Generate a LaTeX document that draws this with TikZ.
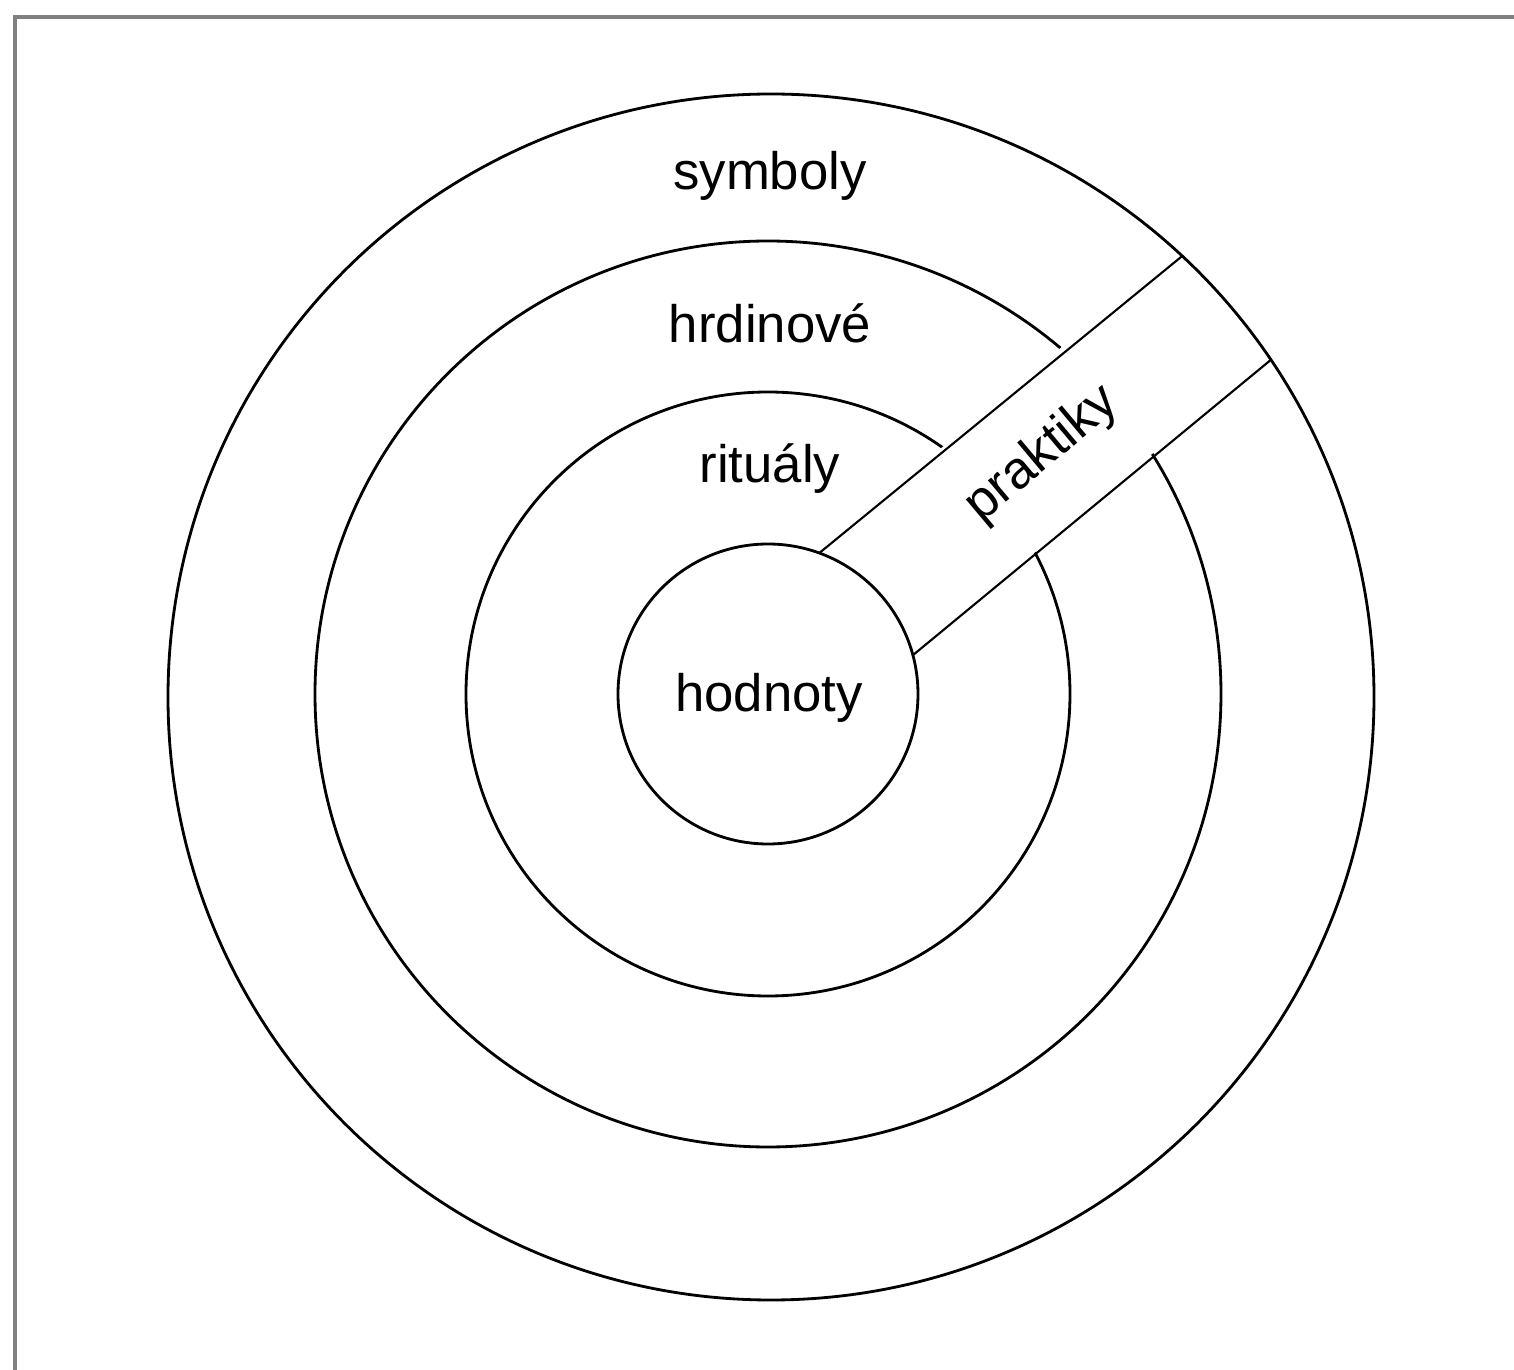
\documentclass[tikz,border=0pt]{standalone}
\usepackage{fontspec}
\setmainfont{Liberation Sans}
\begin{document}
\begin{tikzpicture}[
    ring/.style={draw, circle, line width=0.8pt, inner sep=0pt, outer sep=0pt},
    lbl/.style={font=\fontsize{15}{18}\selectfont, anchor=base, inner sep=0pt},
    bandline/.style={line width=0.6pt},
    frame/.style={draw=gray, line width=1.4pt}
  ]
  \useasboundingbox (0,0) rectangle (15.14,13.70);
  \coordinate (mid) at (7.68,6.76);
  \coordinate (outermid) at (7.71,6.73);

  % frame
  \coordinate (fbl) at (0.15,0);
  \coordinate (ftl) at (0.15,13.53);
  \coordinate (ftr) at (15.14,13.53);
  \draw[frame] (fbl) -- (ftl) -- (ftr);

  % middle rings, cut by the band
  \node[ring, minimum size=6.04cm] (rituals) at (mid) {};
  \node[ring, minimum size=9.06cm] (heroes) at (mid) {};
  \begin{scope}[shift={(mid)}, rotate=40]
    \fill[white] (1.2,-0.63) rectangle (6.1,0.77);
  \end{scope}
  \node[ring, minimum size=3cm] (values) at (mid) {};
  \node[ring, minimum size=12.06cm] (symbols) at (outermid) {};

  % band
  \draw[bandline] (values.70.89) -- (symbols.47.74);
  \draw[bandline] (values.15.17) -- (symbols.34.40);

  \node[lbl] (tsym) at (7.70,11.80) {symboly};
  \node[lbl] (thero) at (7.70,10.27) {hrdinové};
  \node[lbl] (trit) at (7.70,8.87) {rituály};
  \node[lbl] (tval) at (7.69,6.58) {hodnoty};
  \begin{scope}[shift={(mid)}, rotate=40]
    \node[lbl, anchor=center, rotate=40] (tprak) at (3.64,0.07) {praktiky};
  \end{scope}
\end{tikzpicture}
\end{document}
